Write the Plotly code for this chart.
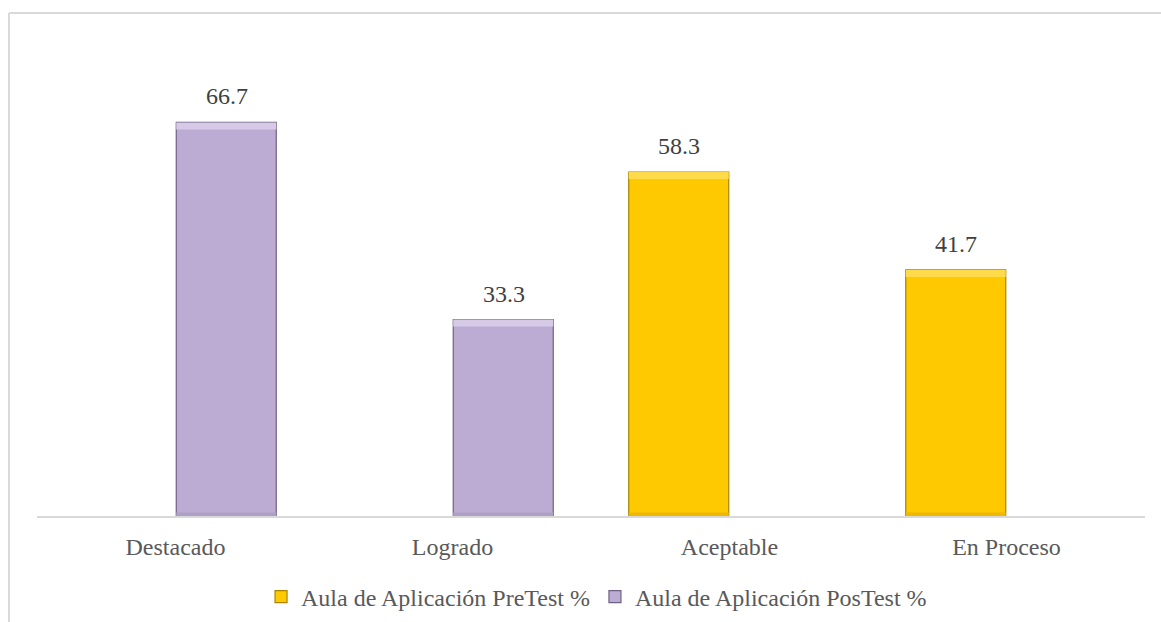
import plotly.graph_objects as go

# Categories and series values (%)
categories = ["Destacado", "Logrado", "Aceptable", "En Proceso"]
pretest = [None, None, 58.3, 41.7]
postest = [66.7, 33.3, None, None]
series_names = ["Aula de Aplicación PreTest %", "Aula de Aplicación PosTest %"]

FONT = "Liberation Serif"
fills = ["#FFC900", "#BCACD4"]
edges = ["#A88400", "#6F6184"]
highlights = ["#FFDA4A", "#D6CAE6"]
shades = ["#EDB800", "#AE9FC4"]

fig = go.Figure()

series = [pretest, postest]
for i, vals in enumerate(series):
    fig.add_trace(go.Bar(
        x=categories, y=vals, name=series_names[i],
        offsetgroup=str(i),
        marker=dict(color=fills[i], line=dict(color=edges[i], width=1.2)),
        hoverinfo="x+y",
    ))

# bevel: light band on top, darker band at the foot of every bar
top_band = 1.2
foot_band = 0.6
for i, vals in enumerate(series):
    fig.add_trace(go.Bar(
        x=categories,
        y=[top_band if v is not None else None for v in vals],
        base=[v - top_band if v is not None else None for v in vals],
        offsetgroup=str(i), showlegend=False, hoverinfo="skip",
        marker=dict(color=highlights[i], line=dict(color=edges[i], width=0)),
    ))
    fig.add_trace(go.Bar(
        x=categories,
        y=[foot_band if v is not None else None for v in vals],
        base=[0 if v is not None else None for v in vals],
        offsetgroup=str(i), showlegend=False, hoverinfo="skip",
        marker=dict(color=shades[i], line=dict(color=edges[i], width=0)),
    ))

# value labels above each bar
half_slot = 51
for i, vals in enumerate(series):
    for c, v in zip(categories, vals):
        if v is None:
            continue
        fig.add_annotation(
            x=c, y=v, text=f"{v:.1f}", showarrow=False,
            xshift=(-half_slot if i == 0 else half_slot), yshift=11,
            yanchor="bottom", font=dict(family=FONT, size=24, color="#404040"),
        )

# light frame round the chart
frame = "#D9D9D9"
fig.add_shape(type="line", xref="paper", yref="paper", x0=-0.0253, x1=1.1,
              y0=1.0657, y1=1.0657, line=dict(color=frame, width=2))
fig.add_shape(type="line", xref="paper", yref="paper", x0=-0.0253, x1=-0.0253,
              y0=-0.3, y1=1.0657, line=dict(color=frame, width=2))

fig.update_layout(
    template="none",
    width=1161, height=622,
    margin=dict(l=37, r=16, t=44, b=106, pad=0),
    paper_bgcolor="white", plot_bgcolor="white",
    barmode="group", bargap=0.267, bargroupgap=0.015,
    font=dict(family=FONT, size=24, color="#595959"),
    showlegend=True,
    legend=dict(orientation="h", x=0.505, xanchor="center",
                yref="container", y=0.04, yanchor="middle",
                font=dict(family=FONT, size=24, color="#595959"),
                itemwidth=30, traceorder="normal", bgcolor="rgba(0,0,0,0)"),
    xaxis=dict(showline=True, linecolor=frame, linewidth=2, showgrid=False,
               automargin=False, ticks="", ticklabelstandoff=8,
               tickfont=dict(family=FONT, size=24, color="#595959")),
    yaxis=dict(range=[0, 80], visible=False, showgrid=False, zeroline=False,
               automargin=False),
)

fig.write_html("out.html")
